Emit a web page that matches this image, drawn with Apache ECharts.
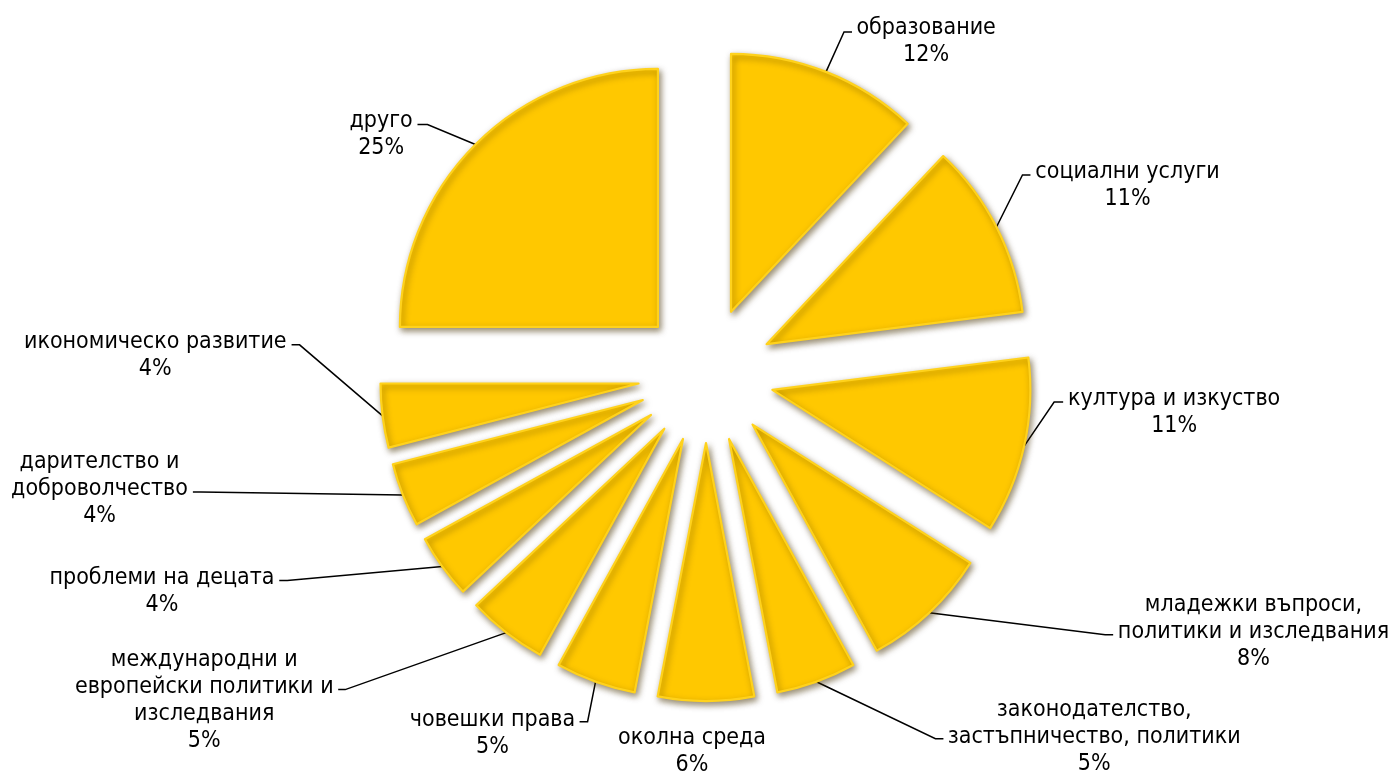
<!DOCTYPE html>
<html>
<head>
<meta charset="utf-8">
<script src="https://cdn.jsdelivr.net/npm/echarts@6/dist/echarts.min.js"></script>
<style>
  html, body { margin: 0; padding: 0; background: #ffffff; }
  #chart { width: 1388px; height: 771px; }
</style>
</head>
<body>
<div id="chart"></div>
<script>
// Areas of activity and their share, clockwise from 12 o'clock
const categories = [
  'образование',
  'социални услуги',
  'култура и изкуство',
  'младежки въпроси,\nполитики и изследвания',
  'законодателство,\nзастъпничество, политики',
  'околна среда',
  'човешки права',
  'международни и\nевропейски политики и\nизследвания',
  'проблеми на децата',
  'дарителство и\nдоброволчество',
  'икономическо развитие',
  'друго'
];
const shares = [12, 11, 11, 8, 5, 6, 5, 5, 4, 4, 4, 25];

// Leader-line routing for each label: where the line ends relative to the
// point on the slice rim [dx, dy], and the length of its horizontal tail.
// A tail of 0 means the label sits straight under the slice without a line
// ([dx, dy] is then the centre of its first text line).
const leaderRoute = [
  [26, -40, 8],
  [34, -52, 8],
  [39, -44, 9],
  [184, 22, 8],
  [127, 57, 8],
  [-14, 36, 0],
  [-16, 40, 8],
  [-168, 57, 7],
  [-163, 14, 8],
  [-210, -3, 8],
  [-91, -71, 8],
  [-58, -20, 10]
];

const LINE_H = 27;
const TEXT_GAP = 4;      // space between the end of a leader line and its text
const BASE_GAP = 6;      // where the pie puts a label with (almost) no leader line
const LINE_RAISE = 3;    // leader meets the text slightly below a line's centre

const chart = echarts.init(document.getElementById('chart'), null, { renderer: 'canvas' });

const sliceStyle = {
  color: '#FFC800',
  borderColor: '#FFD21C',
  borderWidth: 2.2,
  shadowBlur: 6,
  shadowColor: 'rgba(70, 50, 0, 0.55)',
  shadowOffsetX: 2,
  shadowOffsetY: 3
};

// Label text: name lines and the percentage, centred in one block. When the
// block has an even number of lines a blank line is put on top so that the
// middle of the block is the line the leader meets.
function labelText(p) {
  const body = p.name + '\n' + p.value + '%';
  const n = body.split('\n').length;
  return (n % 2 === 0 ? '{s| }\n' : '') + '{t|' + body + '}';
}

// Padding that shifts each label block from the rim point to its leader end.
function labelPadding(route) {
  const dx = route[0], tail = route[2];
  if (tail === 0) {
    const v = route[1];
    const h = dx - BASE_GAP;
    return [Math.max(0, 2 * v), Math.max(0, -2 * h), Math.max(0, -2 * v), Math.max(0, 2 * h)];
  }
  const v = route[1] - LINE_RAISE;
  const top = Math.max(0, 2 * v), bottom = Math.max(0, -2 * v);
  if (dx >= 0) {
    return [top, 0, bottom, Math.max(0, dx + TEXT_GAP - BASE_GAP)];
  }
  return [top, Math.max(0, -dx + TEXT_GAP - BASE_GAP), bottom, 0];
}

chart.setOption({
  animation: false,
  backgroundColor: '#ffffff',
  series: [{
    type: 'pie',
    center: [706, 375],
    radius: 258,
    startAngle: 90,
    clockwise: true,
    selectedMode: 'multiple',
    selectedOffset: 68,
    avoidLabelOverlap: false,
    itemStyle: sliceStyle,
    select: { itemStyle: sliceStyle },
    emphasis: { disabled: true },
    label: {
      show: true,
      position: 'outside',
      formatter: labelText,
      rich: {
        t: {
          align: 'center',
          fontFamily: '"DejaVu Sans Condensed", "DejaVu Sans"',
          fontSize: 23,
          lineHeight: LINE_H,
          color: '#000000'
        },
        s: {
          fontSize: 23,
          lineHeight: LINE_H
        }
      }
    },
    labelLine: {
      show: true,
      length: 1,
      length2: 1,
      lineStyle: { color: '#000000', width: 1.5 }
    },
    labelLayout: function (params) {
      const pts = params.labelLinePoints;
      if (!pts) { return {}; }
      const route = leaderRoute[params.dataIndex];
      const p0 = pts[0];
      if (route[2] === 0) {
        return { align: 'center', labelLinePoints: [p0.slice(), p0.slice(), p0.slice()] };
      }
      const side = route[0] >= 0 ? 1 : -1;
      const ax = p0[0] + route[0];
      const ay = p0[1] + route[1];
      return { labelLinePoints: [p0.slice(), [ax - side * route[2], ay], [ax, ay]] };
    },
    data: categories.map((name, i) => ({
      name: name,
      value: shares[i],
      selected: true,
      label: { padding: labelPadding(leaderRoute[i]) }
    }))
  }]
});
</script>
</body>
</html>
